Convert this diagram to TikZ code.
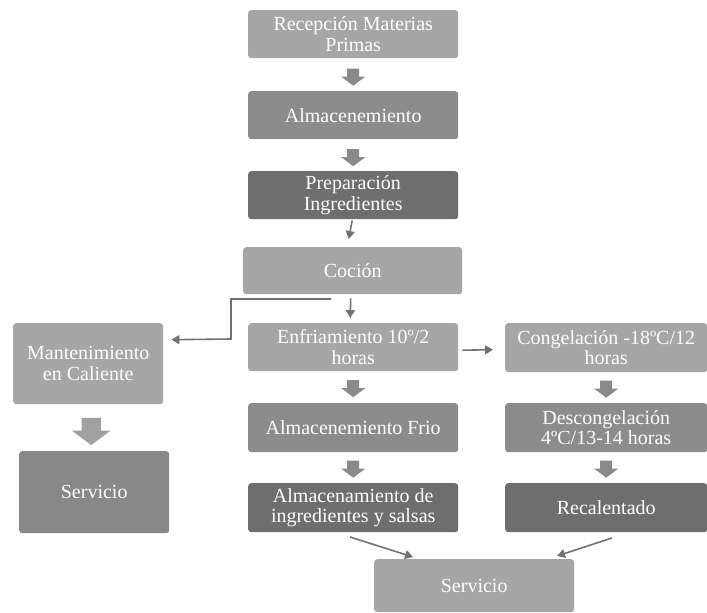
\documentclass[tikz,border=0pt]{standalone}
\usepackage{fontspec}
\setmainfont{Liberation Serif}
\newfontfamily\boxfont{Liberation Serif}
\usetikzlibrary{arrows.meta,calc}
\definecolor{clight}{HTML}{A6A6A6}
\definecolor{cmed}{HTML}{8C8C8C}
\definecolor{cdark}{HTML}{6E6E6E}
\definecolor{cserv}{HTML}{888888}
\definecolor{cfat}{HTML}{8A8A8A}
\definecolor{cfatl}{HTML}{A0A0A0}
\definecolor{cline}{HTML}{727272}
\tikzset{
  box/.style={draw=none, rounded corners=3pt, anchor=north west, align=center,
    text=white, font=\boxfont\fontsize{20}{20.5}\selectfont, inner sep=0pt},
  thin/.style={draw=cline, line width=1.6pt, -{Triangle[width=9pt,length=8pt]}},
  pics/fatarrow/.style={code={\fill[#1] (-6,-8)--(6,-8)--(6,0)--(12,0)--(0,9)--(-12,0)--(-6,0)--cycle;}},
}
\begin{document}
\begin{tikzpicture}[x=1pt,y=-1pt]
\useasboundingbox (0,0) rectangle (707,613);
% main column
\node[box, fill=clight, minimum width=210pt, minimum height=48pt] (rec) at (248,10) {Recepción Materias\\Primas};
\node[box, fill=cmed, minimum width=210pt, minimum height=48pt] (alm) at (248,91) {Almacenemiento};
\node[box, fill=cdark, minimum width=210pt, minimum height=48pt] (pre) at (248,171) {Preparación\\Ingredientes};
\node[box, fill=clight, minimum width=219pt, minimum height=47pt] (coc) at (243,247) {Coción};
\node[box, fill=clight, minimum width=210pt, minimum height=48pt] (enf) at (248,323) {Enfriamiento 10º/2\\horas};
\node[box, fill=cmed, minimum width=210pt, minimum height=49pt] (amf) at (248,403) {Almacenemiento Frio};
\node[box, fill=cdark, minimum width=210pt, minimum height=49pt] (ams) at (248,483) {Almacenamiento de\\ingredientes y salsas};
% right column
\node[box, fill=clight, minimum width=202pt, minimum height=49pt] (con) at (505,323) {Congelación -18ºC/12\\horas};
\node[box, fill=cmed, minimum width=202pt, minimum height=49pt] (des) at (505,403) {Descongelación\\4ºC/13-14 horas};
\node[box, fill=cdark, minimum width=202pt, minimum height=49pt] (rca) at (505,483) {Recalentado};
% left column
\node[box, fill=clight, minimum width=150pt, minimum height=81pt] (man) at (13,323) {Mantenimiento\\en Caliente};
\node[box, fill=cserv, minimum width=150pt, minimum height=82pt] (srl) at (19,451) {Servicio};
% bottom
\node[box, fill=clight, minimum width=200pt, minimum height=53pt] (srv) at (374,559) {Servicio};
% fat arrows
\path ($(rec.south)!0.5!(alm.north)+(0,2)$) pic{fatarrow=cfat};
\path ($(alm.south)!0.5!(pre.north)+(0,2)$) pic{fatarrow=cfat};
\path ($(enf.south)!0.5!(amf.north)+(0,1)$) pic{fatarrow=cfat};
\path ($(amf.south)!0.5!(ams.north)+(0,1)$) pic{fatarrow=cfat};
\path ($(con.south)!0.5!(des.north)+(0,1)$) pic{fatarrow=cfat};
\path ($(des.south)!0.5!(rca.north)+(0,1)$) pic{fatarrow=cfat};
\path ($(man.south)!0.5!(srl.north)+(0,3)$) pic[scale=1.6]{fatarrow=cfatl};
% thin arrows
\coordinate (p1) at ($(pre.south)+(-1,1)$);
\coordinate (p2) at ($(coc.north)+(-4,-8)$);
\draw[thin] (p1) -- (p2);
\coordinate (c1) at ($(coc.south)+(-2,4)$);
\coordinate (c2) at ($(enf.north)+(-3,-5)$);
\draw[thin] (c1) -- (c2);
\coordinate (e1) at ($(enf.east)+(4,3)$);
\coordinate (e2) at ($(con.west)+(-12,2)$);
\draw[thin] (e1) -- (e2);
\coordinate (l0) at (331,299);
\coordinate (l1) at (231,299);
\coordinate (l2) at (231,339);
\coordinate (l3) at ($(man.east)+(8,-24)$);
\draw[thin, rounded corners=0pt] (l0) -- (l1) -- (l2) -- (l3);
\coordinate (s1) at (350,537);
\coordinate (s2) at (413,557);
\draw[thin] (s1) -- (s2);
\coordinate (r1) at (612,538);
\coordinate (r2) at (557,556);
\draw[thin] (r1) -- (r2);
\end{tikzpicture}
\end{document}
